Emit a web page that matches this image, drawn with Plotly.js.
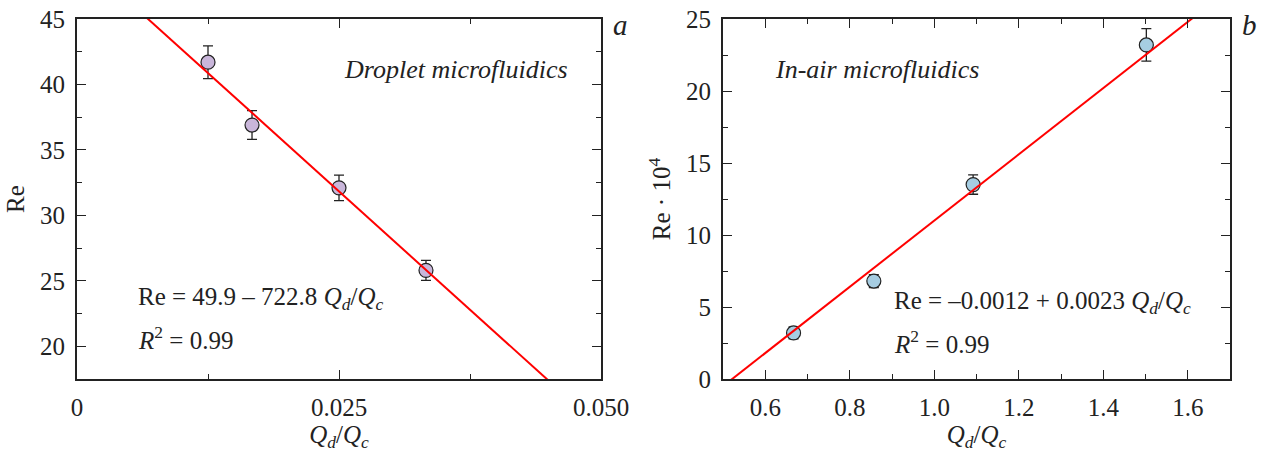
<!DOCTYPE html>
<html>
<head>
<meta charset="utf-8">
<script src="https://cdn.plot.ly/plotly-3.0.1.min.js"></script>
<style>html,body{margin:0;padding:0;background:#fff;}#chart{width:1264px;height:454px;}</style>
</head>
<body>
<div id="chart"></div>
<script>
// Panel a: droplet microfluidics
const dropletQ = [0.0125, 0.0167, 0.025, 0.0333];
const dropletRe = [41.7, 36.9, 32.1, 25.8];
const dropletErr = [1.25, 1.1, 0.97, 0.76];
const dropletFit = {intercept: 49.9, slope: -722.8};
const dropletFitQ = [0, 0.05];

// Panel b: in-air microfluidics (Re·10^4)
const airQ = [0.667, 0.857, 1.092, 1.502];
const airRe = [3.2, 6.8, 13.5, 23.2];
const airErr = [0.42, 0.45, 0.67, 1.13];
const airFit = {intercept: -12, slope: 23};
const airFitQ = [0.5, 1.7];

const xTicksA = [0, 0.025, 0.05];
const xTickTextA = ['0', '0.025', '0.050'];

const SERIF = 'Liberation Serif, Times New Roman, serif';
const INK = '#222222';

const fitY = (f, xs) => xs.map(x => f.intercept + f.slope * x);

const traces = [
  {
    x: dropletQ, y: dropletRe, type: 'scatter', mode: 'markers',
    xaxis: 'x', yaxis: 'y',
    marker: {size: 14, color: '#c9b6da', line: {color: INK, width: 1.2}},
    error_y: {type: 'data', array: dropletErr, visible: true, color: INK, thickness: 1.3, width: 5},
    showlegend: false
  },
  {
    x: dropletFitQ, y: fitY(dropletFit, dropletFitQ), type: 'scatter', mode: 'lines',
    xaxis: 'x', yaxis: 'y',
    line: {color: '#ff0000', width: 2}, showlegend: false
  },
  {
    x: airQ, y: airRe, type: 'scatter', mode: 'markers',
    xaxis: 'x2', yaxis: 'y2',
    marker: {size: 14, color: '#a6cde2', line: {color: INK, width: 1.2}},
    error_y: {type: 'data', array: airErr, visible: true, color: INK, thickness: 1.3, width: 5},
    showlegend: false
  },
  {
    x: airFitQ, y: fitY(airFit, airFitQ), type: 'scatter', mode: 'lines',
    xaxis: 'x2', yaxis: 'y2',
    line: {color: '#ff0000', width: 2}, showlegend: false
  }
];

const W = 1264, H = 454;
const axBase = {
  showline: true, linecolor: INK, linewidth: 2, mirror: 'ticks',
  ticks: 'inside', ticklen: 9, tickwidth: 1.3, tickcolor: INK,
  showgrid: false, zeroline: false,
  tickfont: {family: SERIF, size: 25, color: INK},
  ticklabelstandoff: 5
};
const titleFont = {family: SERIF, size: 25, color: INK};

const layout = {
  width: W, height: H,
  margin: {l: 0, r: 0, t: 0, b: 0},
  paper_bgcolor: '#fff', plot_bgcolor: '#fff',
  font: {family: SERIF, color: INK},
  showlegend: false,
  xaxis: Object.assign({}, axBase, {
    domain: [77 / W, 601 / W], range: [0, 0.05], anchor: 'y',
    tickvals: xTicksA, ticktext: xTickTextA,
    minor: {tickvals: [0.0125, 0.0375], ticks: 'inside', ticklen: 5, tickwidth: 1.3, tickcolor: INK},
    title: {text: '<i>Q<sub>d</sub></i>/<i>Q<sub>c</sub></i>', font: titleFont, standoff: 3}
  }),
  yaxis: Object.assign({}, axBase, {
    domain: [1 - 379 / H, 1 - 19 / H], range: [17.5, 45], anchor: 'x',
    tick0: 0, dtick: 5,
    minor: {dtick: 2.5, ticks: 'inside', ticklen: 5, tickwidth: 1.3, tickcolor: INK},
    title: {text: 'Re', font: titleFont, standoff: 8}
  }),
  xaxis2: Object.assign({}, axBase, {
    domain: [723 / W, 1230 / W], range: [0.5, 1.7], anchor: 'y2',
    tick0: 0, dtick: 0.2, tickformat: '.1f',
    minor: {dtick: 0.1, ticks: 'inside', ticklen: 5, tickwidth: 1.3, tickcolor: INK},
    title: {text: '<i>Q<sub>d</sub></i>/<i>Q<sub>c</sub></i>', font: titleFont, standoff: 3}
  }),
  yaxis2: Object.assign({}, axBase, {
    domain: [1 - 379 / H, 1 - 19 / H], range: [0, 25], anchor: 'x2',
    tick0: 0, dtick: 5,
    minor: {dtick: 2.5, ticks: 'inside', ticklen: 5, tickwidth: 1.3, tickcolor: INK},
    title: {text: 'Re · 10<sup>4</sup>', font: titleFont, standoff: 8}
  }),
  annotations: [
    {xref: 'paper', yref: 'paper', x: 570 / W, y: 1 - 70 / H, xanchor: 'right', yanchor: 'middle',
     text: '<i>Droplet microfluidics</i>', showarrow: false, font: {family: SERIF, size: 26, color: INK}},
    {xref: 'paper', yref: 'paper', x: 773 / W, y: 1 - 70 / H, xanchor: 'left', yanchor: 'middle',
     text: '<i>In-air microfluidics</i>', showarrow: false, font: {family: SERIF, size: 26, color: INK}},
    {xref: 'paper', yref: 'paper', x: 620 / W, y: 1 - 25 / H, xanchor: 'center', yanchor: 'middle',
     text: '<i>a</i>', showarrow: false, font: {family: SERIF, size: 29, color: INK}},
    {xref: 'paper', yref: 'paper', x: 1249 / W, y: 1 - 25 / H, xanchor: 'center', yanchor: 'middle',
     text: '<i>b</i>', showarrow: false, font: {family: SERIF, size: 29, color: INK}},
    {xref: 'paper', yref: 'paper', x: 136 / W, y: 1 - 298 / H, xanchor: 'left', yanchor: 'middle',
     text: 'Re = 49.9 – 722.8 <i>Q<sub>d</sub></i>/<i>Q<sub>c</sub></i>', showarrow: false, font: {family: SERIF, size: 25, color: INK}},
    {xref: 'paper', yref: 'paper', x: 136 / W, y: 1 - 338 / H, xanchor: 'left', yanchor: 'middle',
     text: '<i>R</i><sup>2</sup> = 0.99', showarrow: false, font: {family: SERIF, size: 25, color: INK}},
    {xref: 'paper', yref: 'paper', x: 892 / W, y: 1 - 302 / H, xanchor: 'left', yanchor: 'middle',
     text: 'Re = –0.0012 + 0.0023 <i>Q<sub>d</sub></i>/<i>Q<sub>c</sub></i>', showarrow: false, font: {family: SERIF, size: 25, color: INK}},
    {xref: 'paper', yref: 'paper', x: 892 / W, y: 1 - 342 / H, xanchor: 'left', yanchor: 'middle',
     text: '<i>R</i><sup>2</sup> = 0.99', showarrow: false, font: {family: SERIF, size: 25, color: INK}}
  ]
};

Plotly.newPlot('chart', traces, layout, {displayModeBar: false});
</script>
</body>
</html>
